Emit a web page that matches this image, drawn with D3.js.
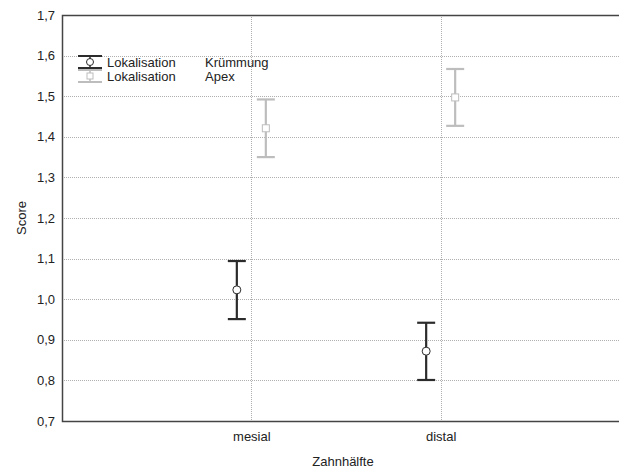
<!DOCTYPE html>
<html lang="de">
<head>
<meta charset="UTF-8" />
<script src="https://d3js.org/d3.v7.min.js"></script>
<title>Score nach Zahnhälfte</title>
<style>
  body { margin: 0; background: #fff; }
  svg { font-family: "Liberation Sans", Arial, sans-serif; }
</style>
</head>
<body>
<svg id="chart" width="619" height="471"></svg>
<script>
  const categories = ["mesial", "distal"];
  const seriesNames = ["Krümmung", "Apex"];
  // means, lower and upper bounds per series (mesial, distal)
  const kruemmungMean = [1.023, 0.872];
  const kruemmungLow = [0.951, 0.801];
  const kruemmungHigh = [1.094, 0.942];
  const apexMean = [1.421, 1.497];
  const apexLow = [1.350, 1.427];
  const apexHigh = [1.492, 1.567];
  const yTicks = [0.7, 0.8, 0.9, 1.0, 1.1, 1.2, 1.3, 1.4, 1.5, 1.6, 1.7];

  const plotLeft = 62, plotTop = 15, plotRight = 630, plotBottom = 421;
  const fontSize = 13;
  const svg = d3.select("#chart");

  const x = d3.scalePoint().domain(categories).range([plotLeft, plotRight]).padding(1);
  const y = d3.scaleLinear().domain([0.7, 1.7]).range([plotBottom, plotTop]);

  const series = [
    { name: seriesNames[0], mean: kruemmungMean, low: kruemmungLow, high: kruemmungHigh,
      color: "#2b2b2b", offset: -14.5, shape: "circle" },
    { name: seriesNames[1], mean: apexMean, low: apexLow, high: apexHigh,
      color: "#bdbdbd", offset: 14.5, shape: "square" }
  ];

  // grid
  const grid = svg.append("g").attr("stroke", "#b0b0b0").attr("stroke-width", 1)
    .attr("stroke-dasharray", "1,1");
  grid.selectAll("line.h").data(yTicks.slice(1, -1)).join("line")
    .attr("class", "h")
    .attr("x1", plotLeft).attr("x2", 619)
    .attr("y1", d => Math.round(y(d)) + 0.5).attr("y2", d => Math.round(y(d)) + 0.5);
  grid.selectAll("line.v").data(categories).join("line")
    .attr("class", "v")
    .attr("x1", d => Math.round(x(d)) + 0.5).attr("x2", d => Math.round(x(d)) + 0.5)
    .attr("y1", plotTop).attr("y2", plotBottom);

  // axes
  const yAxis = d3.axisLeft(y).tickValues(yTicks).tickSize(0).tickPadding(7)
    .tickFormat(d => d3.format(".1f")(d).replace(".", ","));
  const gy = svg.append("g").attr("transform", `translate(${plotLeft},0)`).call(yAxis);
  gy.select(".domain").remove();
  gy.selectAll("text").attr("font-size", fontSize).attr("fill", "#222")
    .attr("font-family", "Liberation Sans, Arial, sans-serif");

  const xAxis = d3.axisBottom(x).tickSize(0).tickPadding(11);
  const gx = svg.append("g").attr("transform", `translate(0,${plotBottom})`).call(xAxis);
  gx.select(".domain").remove();
  gx.selectAll("text").attr("font-size", fontSize).attr("fill", "#222")
    .attr("font-family", "Liberation Sans, Arial, sans-serif");

  svg.append("path")
    .attr("d", `M619,${plotTop + 0.5}H${plotLeft + 0.5}V${plotBottom + 0.5}H619`)
    .attr("fill", "none").attr("stroke", "#444").attr("stroke-width", 1.5);

  // titles
  svg.append("text").attr("x", 343).attr("y", 466).attr("text-anchor", "middle")
    .attr("font-size", fontSize).attr("fill", "#222").text("Zahnhälfte");
  svg.append("text").attr("transform", "translate(26,218) rotate(-90)")
    .attr("text-anchor", "middle").attr("font-size", fontSize).attr("fill", "#222").text("Score");

  // error bars
  const capW = 9;
  series.forEach(s => {
    const g = svg.append("g").attr("stroke", s.color).attr("stroke-width", 2.2).attr("fill", "none");
    categories.forEach((c, i) => {
      const cx = x(c) + s.offset;
      g.append("line").attr("x1", cx).attr("x2", cx).attr("y1", y(s.low[i])).attr("y2", y(s.high[i]));
      g.append("line").attr("x1", cx - capW).attr("x2", cx + capW).attr("y1", y(s.low[i])).attr("y2", y(s.low[i]));
      g.append("line").attr("x1", cx - capW).attr("x2", cx + capW).attr("y1", y(s.high[i])).attr("y2", y(s.high[i]));
      if (s.shape === "circle") {
        g.append("circle").attr("cx", cx).attr("cy", y(s.mean[i])).attr("r", 4)
          .attr("fill", "#fff").attr("stroke-width", 1);
      } else {
        g.append("rect").attr("x", cx - 3.5).attr("y", y(s.mean[i]) - 3.5)
          .attr("width", 7).attr("height", 7).attr("fill", "#fff").attr("stroke-width", 1);
      }
    });
  });

  // legend
  const legend = svg.append("g");
  series.forEach((s, i) => {
    const ly = 62 + i * 14;
    const lx = 90;
    const lg = legend.append("g").attr("stroke", s.color).attr("fill", "none");
    lg.append("line").attr("x1", lx).attr("x2", lx).attr("y1", ly - 6).attr("y2", ly + 6).attr("stroke-width", 1.5);
    lg.append("line").attr("x1", lx - 12).attr("x2", lx + 12).attr("y1", ly - 6).attr("y2", ly - 6).attr("stroke-width", 2);
    lg.append("line").attr("x1", lx - 12).attr("x2", lx + 12).attr("y1", ly + 6).attr("y2", ly + 6).attr("stroke-width", 2);
    if (s.shape === "circle") {
      lg.append("circle").attr("cx", lx).attr("cy", ly).attr("r", 3.5).attr("fill", "#fff").attr("stroke-width", 1);
    } else {
      lg.append("rect").attr("x", lx - 3).attr("y", ly - 3).attr("width", 6).attr("height", 6)
        .attr("fill", "#fff").attr("stroke-width", 1);
    }
    legend.append("text").attr("x", 107).attr("y", ly + 4.5).attr("font-size", fontSize).attr("fill", "#222")
      .text("Lokalisation");
    legend.append("text").attr("x", 205).attr("y", ly + 4.5).attr("font-size", fontSize).attr("fill", "#222")
      .text(s.name);
  });
</script>
</body>
</html>
